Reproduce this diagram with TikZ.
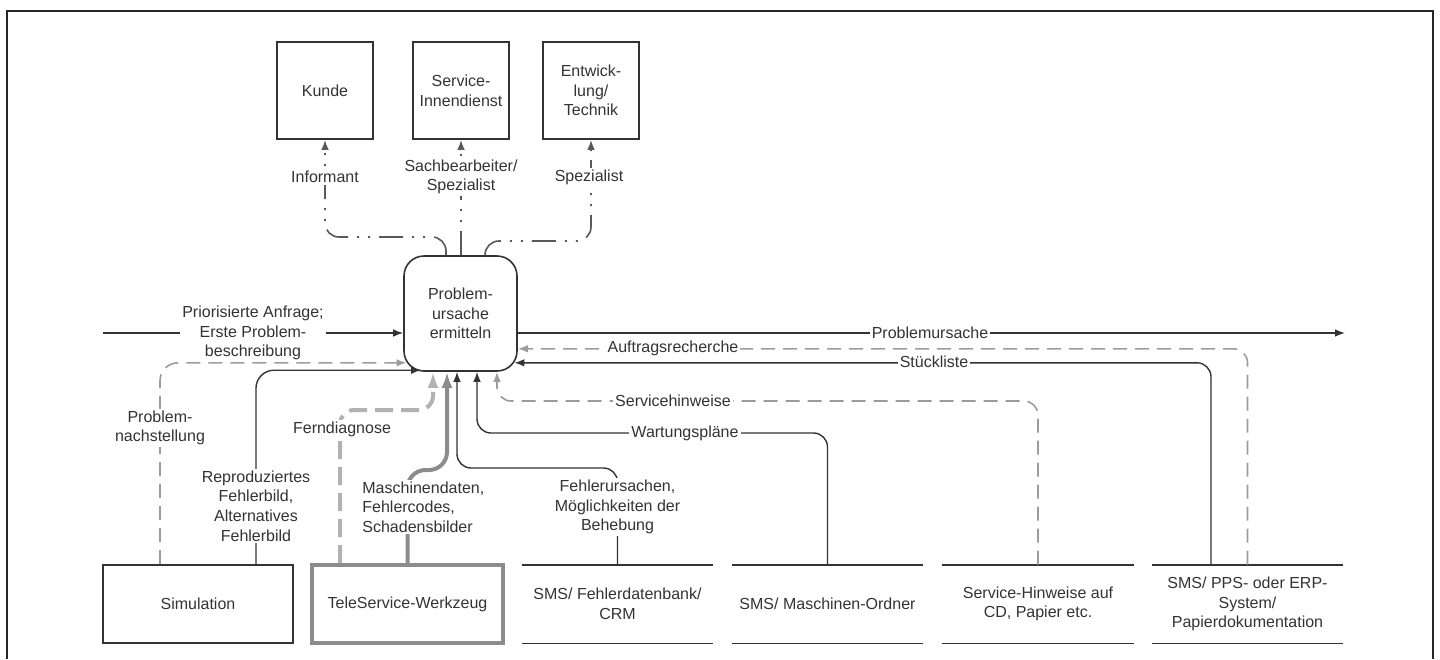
\documentclass[tikz,border=0pt]{standalone}
\usepackage{fontspec}
\setmainfont{Liberation Sans}
\usetikzlibrary{arrows.meta}
\definecolor{ink}{HTML}{333333}
\definecolor{gline}{HTML}{9C9C9C}
\definecolor{thickg}{HTML}{8C8C8C}
\definecolor{lightg}{HTML}{B2B2B2}
\newcommand\labfont{\fontsize{8}{9.8}\selectfont}
\begin{document}
\begin{tikzpicture}[x=0.5pt,y=-0.5pt,
  frame/.style={draw=black!85,line width=1.2pt},
  box/.style={draw=ink,line width=0.8pt,align=center,text=ink,font=\labfont,inner sep=1pt},
  proc/.style={box,rounded corners=10pt},
  tele/.style={draw=thickg,line width=2pt,align=center,text=ink,font=\labfont},
  store/.style={align=center,text=ink,font=\labfont,minimum width=95.5pt,minimum height=39pt},
  lbl/.style={fill=white,inner sep=1pt,align=center,text=ink,font=\labfont},
  line/.style={draw=ink,line width=0.7pt},
  gdash/.style={draw=gline,line width=0.8pt,dash pattern=on 7pt off 4pt},
  dd/.style={draw=black!65,line width=0.8pt,dash pattern=on 12pt off 4.5pt on 1pt off 4.5pt on 1pt off 4.5pt},
  thk/.style={draw=thickg,line width=2pt},
  thkdash/.style={draw=lightg,line width=2pt,dash pattern=on 9pt off 4pt},
  arr/.style={-{Latex[length=5pt,width=3.8pt]}},
  garr/.style={-{Latex[length=5pt,width=3.8pt,color=gline]}},
  tarr/.style={-{Latex[length=8pt,width=5.5pt]}}
]
\useasboundingbox (0,0) rectangle (1440,659);
\draw[frame] (7,659) -- (7,11) -- (1433,11) -- (1433,659);

% top boxes
\node[box,minimum width=48pt,minimum height=48.5pt] (kunde) at (325,90.5) {Kunde};
\node[box,minimum width=48pt,minimum height=48.5pt] (svc) at (461,90.5) {Service-\\Innendienst};
\node[box,minimum width=48pt,minimum height=48.5pt] (ent) at (591,90.5) {Entwick-\\lung/\\Technik};

% central process
\node[proc,minimum width=56.5pt,minimum height=57.5pt] (cn) at (460.5,313.5) {Problem-\\ursache\\ermitteln};

% stores
\node[box,minimum width=95pt,minimum height=39pt] (sim) at (198,604) {Simulation};
\node[tele,minimum width=95.5pt,minimum height=39pt] (tele) at (407.5,604) {TeleService-Werkzeug};
\node[store] (s3) at (617.5,604) {SMS/ Fehlerdatenbank/\\CRM};
\node[store] (s4) at (827.5,604) {SMS/ Maschinen-Ordner};
\node[store] (s5) at (1038,604) {Service-Hinweise auf\\CD, Papier etc.};
\node[store] (s6) at (1247.5,604) {SMS/ PPS- oder ERP-\\System/\\Papierdokumentation};
\foreach \s in {s3,s4,s5,s6}{
  \draw[line,line width=0.9pt] (\s.north west) -- (\s.north east);
  \draw[line,line width=0.9pt] (\s.south west) -- (\s.south east);
}

% entry points on central node
\coordinate (e1) at ([xshift=-13.75pt]cn.south);
\coordinate (e2) at ([xshift=-6.75pt]cn.south);
\coordinate (e3) at ([xshift=-1.75pt]cn.south);
\coordinate (e4) at ([xshift=8.25pt]cn.south);
\coordinate (e5) at ([xshift=18.25pt]cn.south);
\coordinate (tk) at ([xshift=-7.25pt]cn.north);
\coordinate (te) at ([xshift=12.25pt]cn.north);
\coordinate (p1) at ([xshift=-19pt]sim.north);
\coordinate (p2) at ([xshift=29pt]sim.north);
\coordinate (t1) at ([xshift=-33.75pt]tele.north);
\coordinate (r6) at ([xshift=-18.25pt]s6.north);
\coordinate (in) at (103,333);
\coordinate (out) at (1345,333);

% top connectors
\draw[dd,arr,rounded corners=7pt] (tk) |- (kunde.south |- 0,237) -- (kunde.south);
\draw[dd,arr] (svc.south |- cn.north) -- (svc.south);
\draw[dd,arr,rounded corners=7pt] (te) |- (ent.south |- 0,241) -- (ent.south);
\node[lbl] at (325,177) {Informant};
\node[lbl] at (461,177) {Sachbearbeiter/\\Spezialist};
\node[lbl] at (589,177) {Spezialist};

% main flow
\draw[line,arr] (in) -- ([yshift=-9.75pt]cn.west);
\node[lbl] at (253,333) {Priorisierte Anfrage;\\Erste Problem-\\beschreibung};
\draw[line,arr] ([yshift=-9.75pt]cn.east) -- (out);
\node[lbl] at (930,333) {Problemursache};

% right side returns
\draw[gdash,garr,rounded corners=7pt] (s6.north) |- ([yshift=11.5pt]cn.south east);
\node[lbl] at (673,348) {Auftragsrecherche};
\draw[line,arr,rounded corners=7pt] (r6) |- ([xshift=-1.7pt,yshift=4.5pt]cn.south east);
\node[lbl] at (934,362) {Stückliste};
\draw[gdash,garr,rounded corners=7pt] (s5.north) |- (e5 |- 0,401) -- (e5);
\node[lbl] at (673,401) {Servicehinweise};
\draw[line,arr,rounded corners=7pt] (s4.north) |- (e4 |- 0,433) -- (e4);
\node[lbl] at (685,433) {Wartungspläne};
\draw[line,arr,rounded corners=7pt] (s3.north) |- (e3 |- 0,468) -- (e3);
\node[lbl] at (617.5,507) {Fehlerursachen,\\Möglichkeiten der\\Behebung};

% teleservice
\draw[thk,tarr,rounded corners=9pt] (tele.north) |- (e2 |- 0,470) -- (e2);
\node[lbl,anchor=west,align=left] at (360,507) {Maschinendaten,\\Fehlercodes,\\Schadensbilder};
\draw[thkdash,-{Latex[length=8pt,width=5.5pt,color=lightg]},rounded corners=7pt] (t1) |- (e1 |- 0,410) -- (e1);
\node[lbl] at (342,429) {Ferndiagnose};

% simulation
\draw[gdash,garr,rounded corners=9pt] (p1) |- ([xshift=1.65pt,yshift=4.5pt]cn.south west);
\node[lbl] at (160,428) {Problem-\\nachstellung};
\draw[line,arr,rounded corners=9pt] (p2) |- ([xshift=9pt,yshift=0.8pt]cn.south west);
\node[lbl] at (256,506) {Reproduziertes\\Fehlerbild,\\Alternatives\\Fehlerbild};
\end{tikzpicture}
\end{document}
